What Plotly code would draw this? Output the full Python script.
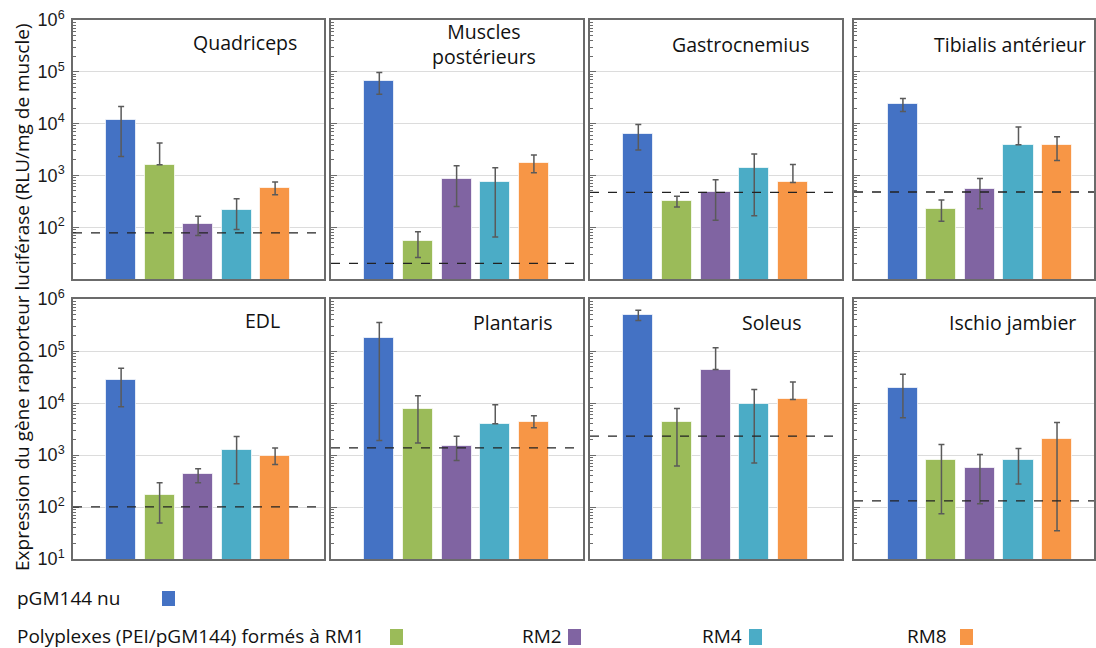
import plotly.graph_objects as go

# ---------------- data ----------------
muscles = ["Quadriceps", "Muscles<br>postérieurs", "Gastrocnemius", "Tibialis antérieur",
           "EDL", "Plantaris", "Soleus", "Ischio jambier"]
groups = ["pGM144 nu", "RM1", "RM2", "RM4", "RM8"]
colors = ["#4472C4", "#9BBB59", "#8064A2", "#4BACC6", "#F79646"]

quadriceps_mean = [11800, 1600, 116, 212, 580]
quadriceps_high = [21300, 4200, 162, 356, 747]
quadriceps_low = [2320, 1600, 69, 90, 425]

posterieurs_mean = [66800, 53.5, 864, 733, 1735]
posterieurs_high = [96600, 82, 1540, 1400, 2470]
posterieurs_low = [37000, 26, 252, 65, 1127]

gastro_mean = [6270, 321, 471, 1365, 733]
gastro_high = [9620, 394, 826, 2580, 1630]
gastro_low = [3090, 246, 136, 167, 733]

tibialis_mean = [23800, 228, 547, 3900, 3780]
tibialis_high = [30500, 336, 875, 8570, 5570]
tibialis_low = [17100, 130, 228, 3900, 1945]

edl_mean = [28100, 167, 425, 1270, 960]
edl_high = [46500, 293, 546, 2260, 1370]
edl_low = [8480, 49, 293, 280, 653]

plantaris_mean = [179000, 7760, 1520, 3980, 4360]
plantaris_high = [355000, 13800, 2300, 9270, 5690]
plantaris_low = [1900, 1710, 780, 3980, 3330]

soleus_mean = [491000, 4280, 43900, 9540, 11700]
soleus_high = [605000, 7870, 115000, 18100, 25300]
soleus_low = [388000, 617, 43900, 703, 11700]

ischio_mean = [19400, 803, 564, 803, 2010]
ischio_high = [35600, 1590, 1020, 1330, 4220]
ischio_low = [5200, 74, 115, 277, 35]

# dashed reference level (background) per muscle
thresholds = [78, 20, 470, 478, 101, 1370, 2300, 131]

means = [quadriceps_mean, posterieurs_mean, gastro_mean, tibialis_mean,
         edl_mean, plantaris_mean, soleus_mean, ischio_mean]
highs = [quadriceps_high, posterieurs_high, gastro_high, tibialis_high,
         edl_high, plantaris_high, soleus_high, ischio_high]
lows = [quadriceps_low, posterieurs_low, gastro_low, tibialis_low,
        edl_low, plantaris_low, soleus_low, ischio_low]

decade_vals = [10, 100, 1000, 10000, 100000, 1000000]
decade_text = ["10<sup>1</sup>", "10<sup>2</sup>", "10<sup>3</sup>",
               "10<sup>4</sup>", "10<sup>5</sup>", "10<sup>6</sup>"]
minor_vals = [k * 10 ** d for d in range(1, 6) for k in range(2, 10)]

legend_row1 = ["pGM144 nu"]
legend_row2 = ["Polyplexes (PEI/pGM144) formés à RM1", "RM2", "RM4", "RM8"]

# ---------------- layout geometry (pixels) ----------------
W, H = 1096, 648
col_px = [(73, 324), (331, 583), (590, 842), (854, 1094)]
row_px = [(20, 279), (299, 559)]
xranges = [[-1.25, 5.27], [-1.25, 5.27], [-1.25, 5.27], [-1.27, 4.96]]
title_pos = [(245, 43), (484, 44), (740, 45), (1010, 45),
             (262, 320), (512, 322), (772, 322), (1012, 322)]


def px(x):
    return x / W


def py(y):
    return 1 - y / H


fig = go.Figure()
layout = dict(template="none", width=W, height=H, margin=dict(l=0, r=0, t=0, b=0, pad=0),
              paper_bgcolor="white", plot_bgcolor="white", showlegend=False,
              font=dict(family="Open Sans", size=16, color="#111111"),
              bargap=0)
shapes = []
annotations = []
frame = "#6b6b6b"

for i in range(8):
    r, c = divmod(i, 4)
    n = i + 1
    xa = "x" if n == 1 else f"x{n}"
    ya = "y" if n == 1 else f"y{n}"
    err_plus = [h - m for h, m in zip(highs[i], means[i])]
    err_minus = [m - l for m, l in zip(means[i], lows[i])]
    fig.add_trace(go.Bar(
        x=list(range(5)), y=means[i], xaxis=xa, yaxis=ya,
        width=0.78,
        marker=dict(color=colors, line=dict(color="rgba(255,255,255,0.7)", width=1)),
        error_y=dict(type="data", symmetric=False, array=err_plus, arrayminus=err_minus,
                     color="#5a5a5a", thickness=1.5, width=3),
        hoverinfo="skip",
    ))
    x0, x1 = col_px[c]
    y0, y1 = row_px[r]
    xkey = "xaxis" if n == 1 else f"xaxis{n}"
    ykey = "yaxis" if n == 1 else f"yaxis{n}"
    layout[xkey] = dict(domain=[px(x0), px(x1)], anchor=ya, range=xranges[c],
                        automargin=False,
                        showticklabels=False, ticks="", showgrid=False, zeroline=False,
                        showline=True, mirror=True, linecolor=frame, linewidth=1.5)
    if r == 0:
        tv, tt = decade_vals[1:], decade_text[1:]
    else:
        tv, tt = decade_vals, decade_text
    layout[ykey] = dict(domain=[py(y1), py(y0)], anchor=xa, type="log", range=[1, 6],
                        automargin=False,
                        tickmode="array", tickvals=tv, ticktext=tt,
                        showticklabels=(c == 0), ticks="inside", ticklen=6,
                        tickcolor=frame, tickwidth=1,
                        ticklabelstandoff=3,
                        tickfont=dict(family="Liberation Sans", size=18, color="#1a1a1a"),
                        minor=dict(tickmode="array", tickvals=minor_vals, ticks="inside",
                                   ticklen=3, tickcolor=frame, tickwidth=1, showgrid=False),
                        showgrid=True, gridcolor="#dcdcdc", gridwidth=1,
                        zeroline=False, showline=True, mirror=True,
                        linecolor=frame, linewidth=1.5)
    shapes.append(dict(type="line", xref=f"{xa} domain", yref=ya, x0=0, x1=1,
                       y0=thresholds[i], y1=thresholds[i],
                       line=dict(color="#222222", width=1.3, dash="dash")))
    tx, ty = title_pos[i]
    annotations.append(dict(text=muscles[i], xref="paper", yref="paper",
                            x=px(tx), y=py(ty), xanchor="center", yanchor="middle",
                            showarrow=False,
                            font=dict(family="Open Sans", size=19.5, color="#111111")))

# y axis title
annotations.append(dict(text="Expression du gène rapporteur luciférase (RLU/mg de muscle)",
                        xref="paper", yref="paper", x=px(22), y=py(297),
                        xanchor="center", yanchor="middle", textangle=-90, showarrow=False,
                        font=dict(family="Open Sans", size=19, color="#111111")))

# custom legend
leg_font = dict(family="Open Sans", size=19, color="#111111")
annotations.append(dict(text=legend_row1[0], xref="paper", yref="paper", x=px(15), y=py(598),
                        xanchor="left", yanchor="middle", showarrow=False, font=leg_font))
shapes.append(dict(type="rect", xref="paper", yref="paper", x0=px(162), x1=px(175),
                   y0=py(606), y1=py(591), fillcolor=colors[0], line=dict(width=0)))
row2_text_x = [15, 520, 700, 905]
row2_box_x = [390, 568, 749, 960]
for k in range(4):
    annotations.append(dict(text=legend_row2[k], xref="paper", yref="paper",
                            x=px(row2_text_x[k]), y=py(636), xanchor="left",
                            yanchor="middle", showarrow=False, font=leg_font))
    shapes.append(dict(type="rect", xref="paper", yref="paper",
                       x0=px(row2_box_x[k]), x1=px(row2_box_x[k] + 13),
                       y0=py(645), y1=py(629), fillcolor=colors[k + 1], line=dict(width=0)))

layout["shapes"] = shapes
layout["annotations"] = annotations
fig.update_layout(**layout)
fig.write_html("out.html", config={"displayModeBar": False},
               post_script="document.body.style.margin='0';document.body.style.overflow='hidden';")
